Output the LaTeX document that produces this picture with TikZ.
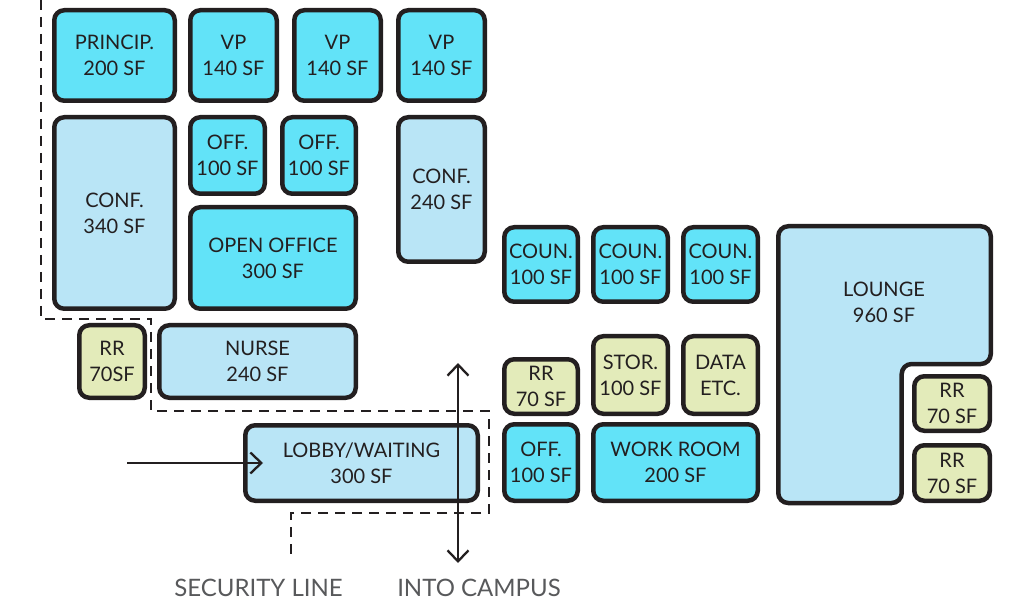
\documentclass[tikz,border=0pt]{standalone}
\usepackage{fontspec}
\setmainfont{Lato}
\usetikzlibrary{arrows.meta}
\definecolor{ink}{HTML}{231F20}
\definecolor{cy}{HTML}{62E3F8}
\definecolor{lb}{HTML}{B9E5F6}
\definecolor{gr}{HTML}{E3EBBA}
\definecolor{lbl}{HTML}{58595B}
\tikzset{
  room/.style={draw=ink, line width=4.5pt, rounded corners=10pt, align=center,
    inner sep=0pt, text=ink, font=\fontsize{20}{26}\selectfont, text depth=-4pt},
  sz/.style n args={2}{minimum width=#1pt, minimum height=#2pt},
  secline/.style={draw=ink, line width=2.5pt, dash pattern=on 10pt off 7pt},
  flow/.style={draw=ink, line width=2.3pt, -{Straight Barb[length=11pt,width=21pt]}},
  flow2/.style={draw=ink, line width=2.3pt, {Straight Barb[length=11pt,width=21pt]}-{Straight Barb[length=11pt,width=21pt]}},
  captxt/.style={text=lbl, font=\fontsize{24}{28}\selectfont}
}
\begin{document}
\begin{tikzpicture}[x=1pt,y=-1pt]
\useasboundingbox (0,0) rectangle (1014,601);
% rooms
\node[room, fill=cy, sz={120.5}{90.5}] (princ) at (114.5,55.5) {PRINCIP.\\200 SF};
\node[room, fill=cy, sz={86.5}{90.5}] (vp1) at (233.5,55.5) {VP\\140 SF};
\node[room, fill=cy, sz={86.5}{90.5}] (vp2) at (337.5,55.5) {VP\\140 SF};
\node[room, fill=cy, sz={86.5}{90.5}] (vp3) at (441.5,55.5) {VP\\140 SF};
\node[room, fill=lb, sz={120.5}{191.5}] (conf1) at (114.5,213) {CONF.\\340 SF};
\node[room, fill=cy, sz={74.5}{76.5}] (off1) at (227.5,155.5) {OFF.\\100 SF};
\node[room, fill=cy, sz={73.5}{76.5}] (off2) at (319,155.5) {OFF.\\100 SF};
\node[room, fill=lb, sz={86.5}{144.5}] (conf2) at (441.5,189.5) {CONF.\\240 SF};
\node[room, fill=cy, sz={165.5}{101.5}] (open) at (273,258) {OPEN OFFICE\\300 SF};
\node[room, fill=cy, sz={73.5}{74.5}] (coun1) at (541,264.5) {COUN.\\100 SF};
\node[room, fill=cy, sz={74.5}{74.5}] (coun2) at (630.5,264.5) {COUN.\\100 SF};
\node[room, fill=cy, sz={74.5}{74.5}] (coun3) at (720.5,264.5) {COUN.\\100 SF};
\node[room, fill=gr, sz={73.5}{54.5}] (rrmid) at (541,386.5) {RR\\70 SF};
\node[room, fill=gr, sz={74.5}{77.5}] (stor) at (630.5,375) {STOR.\\100 SF};
\node[room, fill=gr, sz={74.5}{77.5}] (data) at (720.5,375) {DATA\\ETC.};
\node[room, fill=cy, sz={73.5}{76.5}] (off3) at (541,462.5) {OFF.\\100 SF};
\node[room, fill=cy, sz={164.5}{76.5}] (work) at (675.5,462.5) {WORK ROOM\\200 SF};
\node[room, fill=gr, sz={65.5}{72.5}] (rrleft) at (112,361.5) {RR\\70SF};
\node[room, fill=lb, sz={196.5}{72.5}] (nurse) at (257.5,361.5) {NURSE\\240 SF};
\node[room, fill=lb, sz={232.5}{75.5}] (lobby) at (361.5,463) {LOBBY/WAITING\\300 SF};
\node[room, fill=gr, sz={75.5}{54.5}] (rr1) at (952,403.5) {RR\\70 SF};
\node[room, fill=gr, sz={75.5}{55.5}] (rr2) at (952,473) {RR\\70 SF};
% lounge (L-shape)
\draw[draw=ink, fill=lb, line width=4.5pt, rounded corners=10pt]
  (778.25,226.25) -- (990.75,226.25) -- (990.75,364) -- (901.7,364)
  -- (901.7,503) -- (778.25,503) -- cycle;
\node[text=ink, font=\fontsize{20}{26}\selectfont, align=center, inner sep=0pt, text depth=0pt] (lounge) at (884,302) {LOUNGE\\960 SF};
% security line
\coordinate (s0) at (41,0);
\coordinate (s1) at (41,319);
\coordinate (s2) at (151,319);
\coordinate (s3) at (151,411);
\coordinate (s4) at (489,411);
\coordinate (s5) at (489,513);
\coordinate (s6) at (291,513);
\coordinate (s7) at (291,558);
\draw[secline] (s0) -- (s1) -- (s2) -- (s3) -- (s4) -- (s5) -- (s6) -- (s7);
% arrows
\coordinate (inA) at (127,463);
\coordinate (inB) at (263,463);
\draw[flow] (inA) -- (inB);
\coordinate (cA) at (458,363);
\coordinate (cB) at (458,563);
\draw[flow2] (cA) -- (cB);
% captions
\node[captxt] (seclbl) at (258.5,588) {SECURITY LINE};
\node[captxt] (camplbl) at (479,588) {INTO CAMPUS};
\end{tikzpicture}
\end{document}
